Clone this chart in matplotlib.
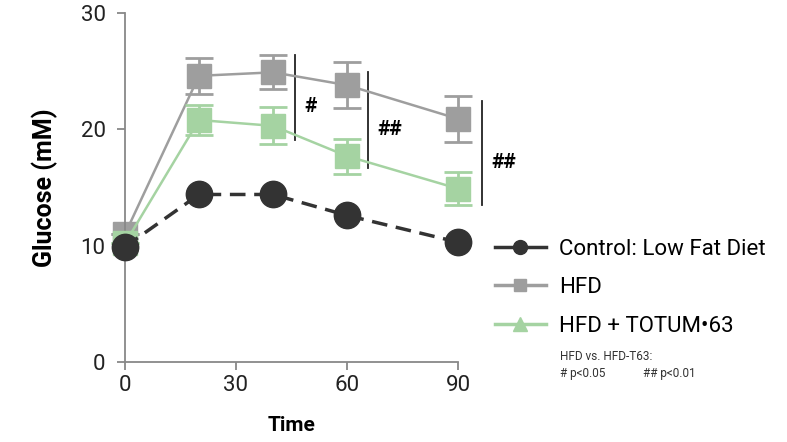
import matplotlib.pyplot as plt
from matplotlib.lines import Line2D

plt.rcParams['font.family'] = ['Roboto', 'DejaVu Sans']

time = [0, 20, 40, 60, 90]
control = [9.9, 14.4, 14.4, 12.6, 10.3]
hfd = [11.0, 24.6, 24.9, 23.8, 20.9]
hfd_err = [0, 1.55, 1.45, 2.0, 2.0]
totum = [10.2, 20.8, 20.3, 17.7, 14.9]
totum_err = [0, 1.3, 1.6, 1.5, 1.4]

# significance brackets: x, y bottom, y top, label
sig_x = [46, 65.7, 96.5]
sig_lo = [19.1, 16.7, 13.5]
sig_hi = [26.4, 24.9, 22.4]
sig_lab = ['#', '##', '##']

c_ctrl = '#333333'
c_hfd = '#9e9e9e'
c_tot = '#a5d3a2'

fig = plt.figure(figsize=(7.87, 4.42), dpi=100)
ax = fig.add_axes([125 / 787, 80 / 442, 333 / 787, 349 / 442])

ax.errorbar(time, hfd, yerr=hfd_err, color=c_hfd, marker='s', markersize=17,
            lw=1.8, capsize=10, capthick=2, elinewidth=2, clip_on=False, zorder=2)
ax.errorbar(time, totum, yerr=totum_err, color=c_tot, marker='s', markersize=17,
            lw=1.8, capsize=10, capthick=2, elinewidth=2, clip_on=False, zorder=3)
ax.plot(time, control, color=c_ctrl, marker='o', markersize=19, lw=2.5,
        ls=(0, (4.5, 2.5)), clip_on=False, zorder=4)

for x, lo, hi, lab in zip(sig_x, sig_lo, sig_hi, sig_lab):
    ax.plot([x, x], [lo, hi], color='#222222', lw=1.3, clip_on=False)
    ax.text(x + 2.5, (lo + hi) / 2 - 0.8, lab, fontsize=15, fontweight='bold',
            ha='left', va='center', clip_on=False)

ax.set_xlim(0, 90)
ax.set_ylim(0, 30)
ax.set_xticks([0, 30, 60, 90])
ax.set_yticks([0, 10, 20, 30])
for s in ['top', 'right']:
    ax.spines[s].set_visible(False)
for s in ['left', 'bottom']:
    ax.spines[s].set_color('#888888')
    ax.spines[s].set_linewidth(1.3)
ax.tick_params(colors='#888888', labelcolor='#222222', labelsize=16,
               length=6, width=1.3)
ax.tick_params(axis='y', pad=8)
ax.set_xlabel('Time', fontsize=15, fontweight='bold', labelpad=14)
ax.set_ylabel('Glucose (mM)', fontsize=18, fontweight='bold', labelpad=16)

handles = [
    Line2D([], [], color=c_ctrl, marker='o', markersize=10, lw=2.5),
    Line2D([], [], color=c_hfd, marker='s', markersize=9, lw=2.5),
    Line2D([], [], color=c_tot, marker='^', markersize=10, lw=2.5),
]
labels = ['Control: Low Fat Diet', 'HFD', 'HFD + TOTUM•63']
fig.legend(handles, labels, loc='upper left', bbox_to_anchor=(486 / 787, 1 - 230 / 442),
           frameon=False, fontsize=16, handlelength=2.3, handletextpad=0.6,
           labelspacing=0.78, borderaxespad=0)

fig.text(560 / 787, 1 - 356 / 442, 'HFD vs. HFD-T63:', fontsize=8.5, va='center', color='#333333')
fig.text(560 / 787, 1 - 374 / 442, '# p<0.05', fontsize=8.5, va='center', color='#333333')
fig.text(643 / 787, 1 - 374 / 442, '## p<0.01', fontsize=8.5, va='center', color='#333333')

fig.savefig('out.png', dpi=100)
